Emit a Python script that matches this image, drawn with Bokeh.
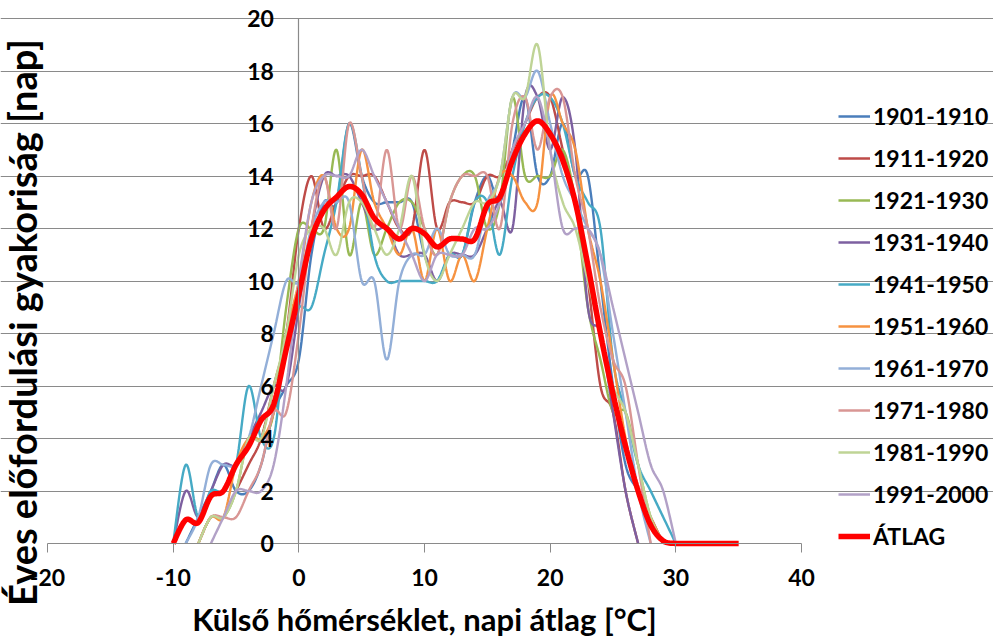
import numpy as np
from bokeh.plotting import figure
from bokeh.models import Range1d, Legend, LegendItem, Label, FixedTicker
from bokeh.embed import file_html
from bokeh.resources import INLINE

# ---------------- data (days per year in each 1 °C bin) ----------------
temps = list(range(-10, 31))          # -10 .. 30 °C
temps_avg = list(range(-10, 36))      # -10 .. 35 °C

periods = ["1901-1910", "1911-1920", "1921-1930", "1931-1940", "1941-1950",
           "1951-1960", "1961-1970", "1971-1980", "1981-1990", "1991-2000"]
colors = ["#4A7EBB", "#BE4B48", "#98B954", "#7D60A0", "#46AAC5",
          "#F69240", "#93AFD8", "#D99694", "#BFD496", "#B2A1C7"]

s1901 = [0, 0, 1, 2, 3, 2, 2, 3, 5, 6,
         7, 11, 13, 13, 16, 14, 13, 13, 13, 13,
         11, 10, 11, 11, 13, 14, 13, 15, 17, 14,
         14, 16, 14, 14, 10, 6, 3, 2, 1, 0, 0]
s1911 = [0, 0, 0, 1, 1, 2, 3, 4, 6, 8,
         12, 14, 12, 13, 14, 14, 14, 13, 12, 12,
         15, 12, 13, 13, 13, 14, 14, 15, 16, 17,
         17, 15, 13, 10, 6, 5, 2, 0, 0, 0, 0]
s1921 = [0, 0, 0, 1, 1, 2, 4, 4, 5, 9,
         12, 12, 12, 15, 11, 13, 11, 12, 13, 13,
         12, 11, 13, 14, 14, 12, 13, 17, 14, 14,
         14, 15, 13, 9, 7, 5, 5, 3, 1, 0, 0]
s1931 = [0, 2, 1, 2, 3, 3, 4, 5, 6, 6,
         9, 12, 14, 14, 14, 13, 12, 12, 11, 11,
         11, 10, 11, 11, 11, 12, 13, 12, 17, 17,
         15, 17, 15, 9, 8, 5, 2, 0, 0, 0, 0]
s1941 = [0, 3, 1, 2, 2, 3, 6, 4, 4, 8,
         9, 9, 11, 13, 16, 14, 11, 10, 10, 10,
         10, 10, 11, 11, 13, 13, 11, 14, 16, 17,
         17, 16, 14, 13, 12, 7, 5, 3, 2, 1, 0]
s1951 = [0, 0, 0, 1, 1, 3, 4, 4, 5, 8,
         10, 13, 14, 12, 12, 15, 13, 12, 11, 12,
         10, 12, 10, 11, 10, 12, 14, 14, 13, 13,
         17, 16, 15, 12, 10, 7, 4, 2, 1, 0, 0]
s1961 = [0, 0, 1, 3, 3, 3, 4, 6, 8, 10,
         10, 12, 13, 13, 13, 10, 10, 7, 10, 11,
         11, 12, 11, 11, 11, 13, 14, 17, 17, 18,
         16, 14, 13, 12, 11, 8, 5, 2, 0, 0, 0]
s1971 = [0, 0, 0, 1, 1, 1, 2, 3, 5, 5,
         8, 12, 14, 12, 16, 14, 12, 15, 12, 14,
         12, 11, 13, 14, 14, 14, 12, 16, 17, 15,
         17, 17, 14, 12, 9, 7, 6, 3, 0, 0, 0]
s1981 = [0, 0, 0, 1, 1, 2, 4, 4, 6, 8,
         11, 12, 12, 11, 13, 13, 12, 11, 12, 14,
         11, 10, 11, 12, 13, 13, 14, 17, 17, 19,
         15, 13, 12, 10, 8, 6, 5, 3, 1, 0, 0]
s1991 = [0, 0, 0, 0, 1, 2, 2, 2, 3, 6,
         10, 13, 14, 14, 14, 15, 14, 13, 12, 11,
         10, 11, 11, 11, 12, 12, 13, 15, 16, 17,
         15, 12, 12, 12, 11, 9, 7, 5, 3, 2, 0]
atlag = [0, 0.9, 0.8, 1.8, 2.0, 3.0, 3.7, 4.7, 5.3, 7.4,
         9.5, 11.6, 12.7, 13.2, 13.6, 13.3, 12.4, 12.0, 11.6, 12.0,
         11.8, 11.3, 11.6, 11.6, 11.6, 12.9, 13.2, 14.6, 15.6, 16.1,
         15.6, 14.6, 13.0, 10.6, 8.0, 5.7, 3.7, 2.0, 0.7, 0.1,
         0, 0, 0, 0, 0, 0]

series = [s1901, s1911, s1921, s1931, s1941, s1951, s1961, s1971, s1981, s1991]

x_ticks = [-20, -10, 0, 10, 20, 30, 40]
y_ticks = [0, 2, 4, 6, 8, 10, 12, 14, 16, 18, 20]
x_labels = {-20: "-20", -10: "-10", 0: "0", 10: "10", 20: "20", 30: "30", 40: "40"}

FONT = "Lato"
GRID = "#8A8A8A"

# layout: the chart area spans x -20..40 -> px 47..801, y 0..20 -> px 543..18
W, H = 993, 638
PL, PR, PT, PB = 47, 801, 18, 543
kx = (PR - PL) / 60.0
ky = (PB - PT) / 20.0
x_lo = -20 - PL / kx
x_hi = 40 + (W - PR) / kx
y_hi = 20 + PT / ky
y_lo = -(H - PB) / ky


def smooth(xs, ys, n=14):
    """Excel-like smoothed line (Catmull-Rom Bezier) through the points."""
    P = np.column_stack([np.asarray(xs, float), np.asarray(ys, float)])
    E = np.vstack([P[0], P, P[-1]])
    tt = np.linspace(0, 1, n, endpoint=False)[:, None]
    out = []
    for i in range(len(P) - 1):
        p0, p1, p2, p3 = E[i], E[i + 1], E[i + 2], E[i + 3]
        c1 = p1 + (p2 - p0) / 6.0
        c2 = p2 - (p3 - p1) / 6.0
        out.append((1 - tt) ** 3 * p1 + 3 * (1 - tt) ** 2 * tt * c1
                   + 3 * (1 - tt) * tt ** 2 * c2 + tt ** 3 * p2)
    out.append(P[-1][None, :])
    a = np.vstack(out)
    return a[:, 0], np.clip(a[:, 1], 0, None)


def trim(ts, vs):
    nz = [i for i, v in enumerate(vs) if v > 0]
    a = max(nz[0] - 1, 0)
    b = min(nz[-1] + 1, len(vs) - 1)
    return ts[a:b + 1], vs[a:b + 1]


p = figure(width=W, height=H,
           x_range=Range1d(x_lo, x_hi), y_range=Range1d(y_lo, y_hi),
           output_backend="svg", toolbar_location=None,
           min_border_left=0, min_border_right=0,
           min_border_top=0, min_border_bottom=0)
p.outline_line_color = None
p.background_fill_color = "white"
p.xgrid.visible = False
p.ygrid.ticker = FixedTicker(ticks=y_ticks[1:])
p.ygrid.bounds = (-20, 40)
p.ygrid.grid_line_color = GRID
p.ygrid.grid_line_width = 1.2

xa = p.xaxis[0]
xa.fixed_location = 0
xa.bounds = (-20, 40)
xa.ticker = FixedTicker(ticks=x_ticks)
xa.major_label_overrides = x_labels
xa.axis_line_color = GRID
xa.axis_line_width = 1.2
xa.major_tick_line_color = GRID
xa.major_tick_out = 9
xa.major_tick_in = 0
xa.minor_tick_line_color = None
xa.major_label_text_font = FONT
xa.major_label_text_font_style = "bold"
xa.major_label_text_font_size = "23px"
xa.major_label_text_color = "black"
xa.major_label_standoff = 16

ya = p.yaxis[0]
ya.fixed_location = 0
ya.bounds = (0, 20)
ya.ticker = FixedTicker(ticks=y_ticks)
ya.axis_line_color = GRID
ya.axis_line_width = 1.2
ya.major_tick_out = 0
ya.major_tick_in = 0
ya.minor_tick_line_color = None
ya.major_label_text_font = FONT
ya.major_label_text_font_style = "bold"
ya.major_label_text_font_size = "23px"
ya.major_label_text_color = "black"
ya.major_label_standoff = 25

p.add_layout(Label(x=(PL + PR) / 2, y=H - 618, x_units="screen", y_units="screen",
                   text="Külső hőmérséklet, napi átlag [°C]",
                   text_align="center", text_baseline="middle",
                   text_font=FONT, text_font_style="bold",
                   text_font_size="31px", text_color="black"))
p.add_layout(Label(x=21, y=H - 322, x_units="screen", y_units="screen",
                   text="Éves előfordulási gyakoriság [nap]", angle=np.pi / 2,
                   text_align="center", text_baseline="middle",
                   text_font=FONT, text_font_style="bold",
                   text_font_size="38px", text_color="black"))

items = []
for lab, col, vals in zip(periods, colors, series):
    tx, vy = trim(temps, vals)
    sx, sy = smooth(tx, vy)
    r = p.line(sx, sy, line_color=col, line_width=2.4)
    items.append(LegendItem(label=lab, renderers=[r]))

sx, sy = smooth(*trim(temps_avg[:41], atlag[:41]))
sx = np.concatenate([sx, temps_avg[41:]])
sy = np.concatenate([sy, atlag[41:]])
r = p.line(sx, sy, line_color="#FF0000", line_width=5.5)
items.append(LegendItem(label="ÁTLAG", renderers=[r]))

legend = Legend(items=items, location=(838, H - 551),
                glyph_width=32, glyph_height=30, label_height=30,
                spacing=12, padding=0, margin=0, label_standoff=3,
                border_line_color=None, background_fill_alpha=0,
                label_text_font=FONT, label_text_font_style="bold",
                label_text_font_size="23px", label_text_color="black")
p.add_layout(legend)

open("out.html", "w").write(file_html(p, INLINE))
